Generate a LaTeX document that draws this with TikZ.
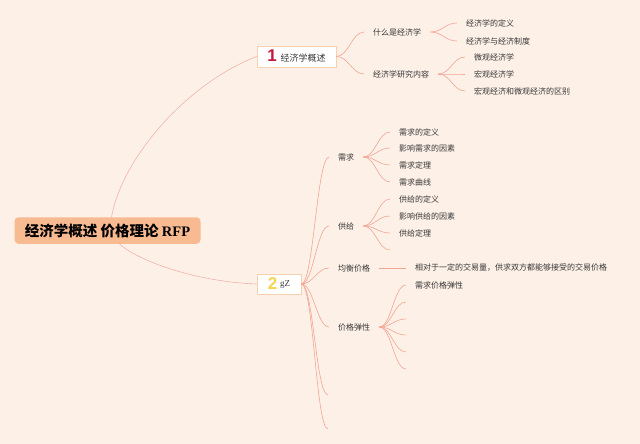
\documentclass[tikz,border=0pt]{standalone}
\usepackage{fontspec}
\newfontfamily\cjk{Noto Sans CJK SC}
\newfontfamily\numf{Liberation Sans}
\newfontfamily\serf{Liberation Serif}
\usetikzlibrary{calc}
\definecolor{bgc}{RGB}{253,240,231}
\definecolor{rootc}{RGB}{248,186,145}
\definecolor{boxc}{RGB}{246,208,175}
\definecolor{linec}{RGB}{243,165,148}
\definecolor{linec2}{RGB}{242,180,170}
\definecolor{txt}{RGB}{55,55,55}
\definecolor{crim}{RGB}{196,24,58}
\definecolor{yel}{RGB}{244,212,80}
\newcommand\mmfan[2]{\draw[br] (#1) .. controls +(12,0) and +(-12,0) .. (#2);}
\begin{document}
\begin{tikzpicture}[x=1pt,y=-1pt,
  lab/.style={anchor=west, inner xsep=9pt, inner ysep=1pt, font=\cjk\fontsize{8}{9.6}\selectfont, text=txt},
  br/.style={draw=linec, line width=0.6pt},
  rootbr/.style={draw=linec2, line width=0.6pt},
  numbox/.style={draw=boxc, fill=white, line width=0.8pt, inner sep=0}
]
\fill[bgc] (0,0) rectangle (640,444);
\useasboundingbox (0,0) rectangle (640,444);

\node[fill=rootc, rounded corners=4pt, minimum width=186pt, minimum height=26.5pt, inner sep=0,
  font=\cjk\bfseries\fontsize{14.5}{16}\selectfont, text=black] (root) at (107.5,230.5)
  {经济学概述 价格理论 {\serf RFP}};

\node[numbox, minimum width=79pt, minimum height=21pt] (n1) at (296.5,56.5)
  {{\numf\bfseries\fontsize{17}{17}\selectfont\color{crim}1}\hspace{4pt}{\cjk\fontsize{9}{10}\selectfont\color{txt}经济学概述}};
\node[numbox, minimum width=44pt, minimum height=20pt] (n2) at (279,284)
  {{\numf\bfseries\fontsize{17}{17}\selectfont\color{yel}2}\hspace{3pt}\raisebox{3pt}{\serf\fontsize{9}{9}\selectfont\color{txt}gZ}};

% branch 1
\node[lab] (a1) at (364,32) {什么是经济学};
\node[lab] (a2) at (364,74) {经济学研究内容};
\node[lab] (a11) at (457,23) {经济学的定义};
\node[lab] (a12) at (457,41) {经济学与经济制度};
\node[lab] (a21) at (465,57) {微观经济学};
\node[lab] (a22) at (465,74) {宏观经济学};
\node[lab] (a23) at (465,91) {宏观经济和微观经济的区别};

% branch 2
\node[lab] (b1) at (329,157) {需求};
\node[lab] (b2) at (329,226) {供给};
\node[lab] (b3) at (329,268) {均衡价格};
\node[lab] (b4) at (329,327) {价格弹性};
\coordinate (b5) at (328,395);
\coordinate (b6) at (328,429);
\node[lab] (b11) at (390,132) {需求的定义};
\node[lab] (b12) at (390,148) {影响需求的因素};
\node[lab] (b13) at (390,165) {需求定理};
\node[lab] (b14) at (390,182) {需求曲线};
\node[lab] (b21) at (390,199) {供给的定义};
\node[lab] (b22) at (390,216) {影响供给的因素};
\node[lab] (b23) at (390,233) {供给定理};
\coordinate (b24) at (390,250);
\node[lab] (b31) at (406,268) {相对于一定的交易量，供求双方都能够接受的交易价格};
\node[lab] (b41) at (406,285) {需求价格弹性};
\coordinate (b42) at (406,302);
\coordinate (b43) at (406,319);
\coordinate (b44) at (406,335);
\coordinate (b45) at (406,352);
\coordinate (b46) at (406,369);

% root connectors
\draw[rootbr] ([xshift=4pt]root.north) .. controls +(10,-57) and +(-72,28) .. (n1.west);
\draw[rootbr] ([xshift=12pt]root.south) .. controls +(20,18) and +(-58,-2) .. (n2.west);

% fans
\mmfan{n1.east}{a1.west}
\mmfan{n1.east}{a2.west}
\mmfan{a1.east}{a11.west}
\mmfan{a1.east}{a12.west}
\mmfan{a2.east}{a21.west}
\mmfan{a2.east}{a22.west}
\mmfan{a2.east}{a23.west}

\mmfan{n2.east}{b1.west}
\mmfan{n2.east}{b2.west}
\mmfan{n2.east}{b3.west}
\mmfan{n2.east}{b4.west}
\mmfan{n2.east}{b5}
\mmfan{n2.east}{b6}
\mmfan{b1.east}{b11.west}
\mmfan{b1.east}{b12.west}
\mmfan{b1.east}{b13.west}
\mmfan{b1.east}{b14.west}
\mmfan{b2.east}{b21.west}
\mmfan{b2.east}{b22.west}
\mmfan{b2.east}{b23.west}
\mmfan{b2.east}{b24}
\draw[br] (b3.east) -- (b31.west);
\mmfan{b4.east}{b41.west}
\mmfan{b4.east}{b42}
\mmfan{b4.east}{b43}
\mmfan{b4.east}{b44}
\mmfan{b4.east}{b45}
\mmfan{b4.east}{b46}
\end{tikzpicture}
\end{document}
